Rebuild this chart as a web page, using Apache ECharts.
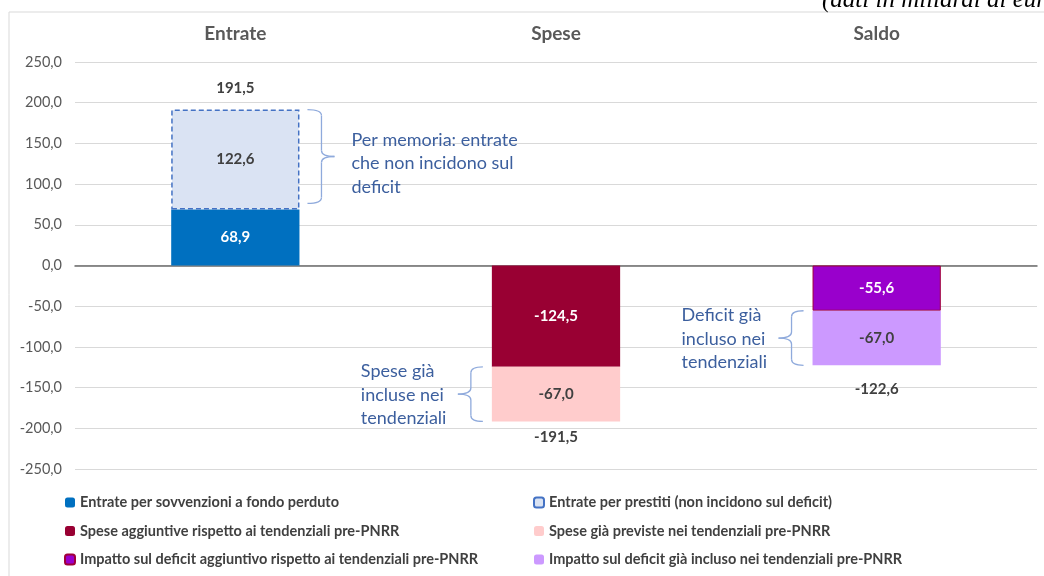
<!DOCTYPE html>
<html>
<head>
<meta charset="utf-8">
<script src="https://cdn.jsdelivr.net/npm/echarts@6/dist/echarts.min.js"></script>
<style>html,body{margin:0;padding:0;background:#fff;}#c{width:1044px;height:576px;}</style>
</head>
<body>
<div id="c"></div>
<script>
const categories = ['Entrate', 'Spese', 'Saldo'];
const sovvenzioni = [68.9, null, null];
const prestiti = [122.6, null, null];
const speseAggiuntive = [null, -124.5, null];
const speseGiaPreviste = [null, -67.0, null];
const deficitAggiuntivo = [null, null, -55.6];
const deficitGiaIncluso = [null, null, -67.0];
const totals = [191.5, -191.5, -122.6];
const seriesNames = [
  'Entrate per sovvenzioni a fondo perduto',
  'Entrate per prestiti (non incidono sul deficit)',
  'Spese aggiuntive rispetto ai tendenziali pre-PNRR',
  'Spese già previste nei tendenziali pre-PNRR',
  'Impatto sul deficit aggiuntivo rispetto ai tendenziali pre-PNRR',
  'Impatto sul deficit già incluso nei tendenziali pre-PNRR'
];
const yMin = -250, yMax = 250, yStep = 50;
const notes = [
  {cat: 0, from: 191.5, to: 68.9, side: 'right', lines: ['Per memoria: entrate', 'che non incidono sul', 'deficit']},
  {cat: 1, from: -124.5, to: -191.5, side: 'left', lines: ['Spese già', 'incluse nei', 'tendenziali']},
  {cat: 2, from: -55.6, to: -122.6, side: 'left', lines: ['Deficit già', 'incluso nei', 'tendenziali']}
];

const FONT = 'Lato';
const fmt = v => (v == null ? '' : Number(v).toFixed(1).replace('.', ','));

const chart = echarts.init(document.getElementById('c'), null, {renderer: 'canvas'});

function barSeries(name, data, color, labelColor, extra) {
  return Object.assign({
    name: name,
    type: 'bar',
    stack: 'tot',
    barWidth: '40%',
    data: data,
    itemStyle: {color: color},
    label: {
      show: true, position: 'inside', color: labelColor,
      fontFamily: FONT, fontWeight: 'bold', fontSize: 15,
      formatter: p => fmt(p.value)
    },
    emphasis: {disabled: true},
    animation: false
  }, extra || {});
}

const legendText = {color: '#404040', fontFamily: FONT, fontWeight: 'bold', fontSize: 14.5, lineHeight: 15};

const option = {
  animation: false,
  backgroundColor: '#fff',
  grid: {left: 75, right: 7, top: 62, bottom: 107, containLabel: false},
  xAxis: [
    {
      type: 'category', data: categories, position: 'top',
      axisLine: {show: false, onZero: false}, axisTick: {show: false},
      axisLabel: {color: '#595959', fontFamily: FONT, fontWeight: 'bold', fontSize: 19, margin: 19},
      splitLine: {show: false}
    },
    {
      type: 'category', data: categories, position: 'bottom',
      axisLine: {show: true, onZero: true, lineStyle: {color: '#6b6b6b', width: 1.5}},
      axisTick: {show: false}, axisLabel: {show: false}, splitLine: {show: false}
    }
  ],
  yAxis: {
    type: 'value', min: yMin, max: yMax, interval: yStep,
    axisLine: {show: false}, axisTick: {show: false},
    axisLabel: {color: '#595959', fontFamily: FONT, fontSize: 14.5, margin: 13, formatter: v => fmt(v)},
    splitLine: {lineStyle: {color: '#d9d9d9', width: 1}}
  },
  legend: [
    {
      orient: 'vertical', left: 59, top: 490, itemWidth: 10, itemHeight: 10, itemGap: 13.5,
      data: [seriesNames[0], seriesNames[2], seriesNames[4]],
      textStyle: legendText, selectedMode: false
    },
    {
      orient: 'vertical', left: 528, top: 490, itemWidth: 10, itemHeight: 10, itemGap: 13.5,
      data: [seriesNames[1], seriesNames[3], seriesNames[5]],
      textStyle: legendText, selectedMode: false
    }
  ],
  series: [
    barSeries(seriesNames[0], sovvenzioni, '#0070C0', '#ffffff'),
    barSeries(seriesNames[1], prestiti, '#DAE3F3', '#404040', {
      itemStyle: {color: '#DAE3F3', borderColor: '#4472C4', borderWidth: 1.5, borderType: [5, 3]}
    }),
    barSeries(seriesNames[2], speseAggiuntive, '#990033', '#ffffff'),
    barSeries(seriesNames[3], speseGiaPreviste, '#FFCCCC', '#404040'),
    barSeries(seriesNames[4], deficitAggiuntivo, '#9900CC', '#ffffff', {
      itemStyle: {color: '#9900CC', borderColor: '#A0003A', borderWidth: 1}
    }),
    barSeries(seriesNames[5], deficitGiaIncluso, '#CC99FF', '#404040'),
    {
      name: 'Totale', type: 'scatter', symbol: 'circle', symbolSize: 1,
      itemStyle: {color: 'rgba(255,255,255,0)', opacity: 1},
      data: totals.map((v, i) => ({
        value: [i, v],
        label: {
          show: true, position: v >= 0 ? 'top' : 'bottom', distance: v >= 0 ? 13 : 8,
          offset: [0, i === 2 ? 8 : 0],
          color: '#404040', fontFamily: FONT, fontWeight: 'bold', fontSize: 15,
          formatter: () => fmt(v)
        }
      })),
      emphasis: {disabled: true}, tooltip: {show: false}, silent: true
    }
  ]
};
chart.setOption(option);

// Annotations (braces + texts) anchored to data via the chart's own scales
const graphics = [
  {type: 'rect', shape: {x: 9, y: 12, width: 1100, height: 700}, style: {fill: 'none', stroke: '#d9d9d9', lineWidth: 1}, silent: true, z: -1},
  {type: 'text', x: 822, y: 0, style: {text: '(dati in miliardi di euro)', font: 'italic 25px "Liberation Serif"', fill: '#000', verticalAlign: 'middle'}, silent: true}
];
const bandW = (1044 - 75 - 7) / categories.length;
const halfBar = bandW * 0.2;
const braceStyle = {fill: 'none', stroke: '#8FAADC', lineWidth: 1.3};
function brace(x0, x1, xt, yT, yB) {
  const yM = (yT + yB) / 2, r = 6;
  return [
    {type: 'bezierCurve', shape: {x1: x0, y1: yT, cpx1: x1, cpy1: yT, x2: x1, y2: yT + r}, style: braceStyle, silent: true},
    {type: 'line', shape: {x1: x1, y1: yT + r, x2: x1, y2: yM - r}, style: braceStyle, silent: true},
    {type: 'bezierCurve', shape: {x1: x1, y1: yM - r, cpx1: x1, cpy1: yM, x2: xt, y2: yM}, style: braceStyle, silent: true},
    {type: 'bezierCurve', shape: {x1: xt, y1: yM, cpx1: x1, cpy1: yM, x2: x1, y2: yM + r}, style: braceStyle, silent: true},
    {type: 'line', shape: {x1: x1, y1: yM + r, x2: x1, y2: yB - r}, style: braceStyle, silent: true},
    {type: 'bezierCurve', shape: {x1: x1, y1: yB - r, cpx1: x1, cpy1: yB, x2: x0, y2: yB}, style: braceStyle, silent: true}
  ];
}
notes.forEach(n => {
  const pTop = chart.convertToPixel({gridIndex: 0}, [n.cat, n.from]);
  const pBot = chart.convertToPixel({gridIndex: 0}, [n.cat, n.to]);
  let yT = Math.min(pTop[1], pBot[1]), yB = Math.max(pTop[1], pBot[1]);
  if (n.cat === 0) { yB -= 6; }
  const yM = (yT + yB) / 2;
  let textX, textY;
  if (n.side === 'right') {
    const x0 = pTop[0] + halfBar + 8, x1 = x0 + 14, xt = x1 + 13;
    brace(x0, x1, xt, yT, yB).forEach(g => graphics.push(g));
    textX = xt + 17; textY = yM + 7;
  } else {
    const x0 = pTop[0] - halfBar - 9, x1 = x0 - 12, xt = x1 - 13;
    brace(x0, x1, xt, yT, yB).forEach(g => graphics.push(g));
    textX = xt - 97; textY = yM + 1;
  }
  graphics.push({
    type: 'text', x: textX, y: textY,
    style: {text: n.lines.join('\n'), fontFamily: FONT, fontSize: 18, lineHeight: 23.5, fill: '#3C5F9E', align: 'left', verticalAlign: 'middle'},
    silent: true
  });
});
chart.setOption({graphic: graphics});
</script>
</body>
</html>
